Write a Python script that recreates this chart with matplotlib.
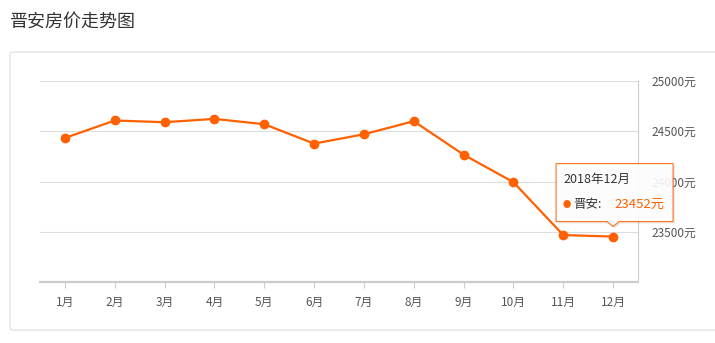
import matplotlib
matplotlib.use('Agg')
from matplotlib import pyplot as plt
from matplotlib.patches import FancyBboxPatch, Polygon
import numpy as np

plt.rcParams['font.family'] = ['Noto Sans CJK SC', 'DejaVu Sans']

# data
months = ['1月', '2月', '3月', '4月', '5月', '6月', '7月', '8月', '9月', '10月', '11月', '12月']
prices = [24433, 24607, 24590, 24623, 24570, 24377, 24470, 24600, 24267, 23993, 23467, 23452]
y_ticks = [23500, 24000, 24500, 25000]
region = '晋安'
tip_title = '2018年12月'

orange = '#ff6000'
W, H = 715, 343

fig = plt.figure(figsize=(W / 100, H / 100), dpi=100)

# outer panel, behind the axes
panel = FancyBboxPatch((10 / W, 1 - 330 / H), 720 / W, 278 / H,
                       boxstyle='round,pad=0,rounding_size=0.006',
                       transform=fig.transFigure, fc='white', ec='#dddddd', lw=0.8, zorder=-1)
fig.patches.append(panel)

fig.text(10 / W, 1 - 22 / H, '晋安房价走势图', fontsize=13, color='#333333', va='center', ha='left')

ax = fig.add_axes([40 / W, 1 - 282 / H, 598 / W, 201 / H])
ax.set_facecolor('none')

x = np.arange(len(months))
ax.plot(x, prices, color=orange, lw=1.6, marker='o', ms=6, zorder=3, clip_on=False)

ax.set_xlim(-0.5, len(months) - 0.5)
ax.set_ylim(23000, 25000)
ax.set_xticks(x)
ax.set_xticklabels(months)
ax.set_yticks(y_ticks)
ax.set_yticklabels([f'{v}元' for v in y_ticks])
ax.yaxis.tick_right()
ax.grid(axis='y', color='#dddddd', lw=0.8)
ax.tick_params(axis='y', length=0, pad=10, labelsize=8.5, labelcolor='#555555')
ax.tick_params(axis='x', length=4, color='#cccccc', pad=6, labelsize=8.5, labelcolor='#555555')
ax.spines['left'].set_visible(False)
ax.spines['top'].set_visible(False)
ax.spines['right'].set_color('#cccccc')
ax.spines['right'].set_linewidth(0.8)
ax.spines['bottom'].set_color('#cccccc')
ax.spines['bottom'].set_linewidth(1.6)
ax.set_axisbelow(True)

# tooltip anchored at the last point
fig.canvas.draw()
px, py = ax.transData.transform((x[-1], prices[-1]))
left, right = px - 57, px + 60
top, bottom = py + 73, py + 15
tip = py + 10
shape = [(left, bottom), (px - 6, bottom), (px, tip), (px + 6, bottom), (right, bottom),
         (right, top), (left, top)]
shadow = Polygon([(a + 2, b - 2) for a, b in shape], closed=True, transform=None,
                 fc='#000000', alpha=0.08, ec='none', zorder=5)
box = Polygon(shape, closed=True, transform=None, fc='white', alpha=0.9,
              ec=orange, lw=0.8, zorder=6)
fig.patches.append(shadow)
fig.patches.append(box)
fig.text(left + 7, py + 57, tip_title, transform=None, fontsize=9, color='#333333',
         va='center', ha='left', zorder=7)
fig.text(left + 7, py + 32, '●', transform=None, fontsize=6, color=orange,
         va='center', ha='left', zorder=7)
fig.text(left + 17, py + 32, region + ':', transform=None, fontsize=9, color='#333333',
         va='center', ha='left', zorder=7)
fig.text(left + 58, py + 32, f'{prices[-1]}元', transform=None, fontsize=9.5, color=orange,
         va='center', ha='left', zorder=7)

fig.savefig('out.png', dpi=100)
